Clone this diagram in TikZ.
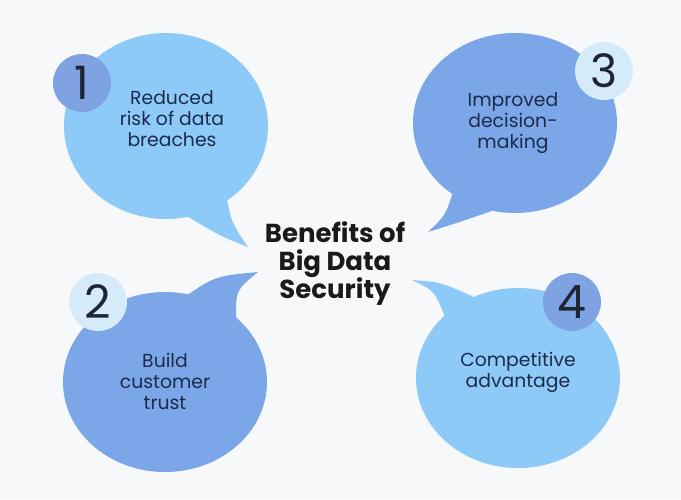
\documentclass[tikz,border=0pt]{standalone}
\usepackage{fontspec}
\setmainfont{Poppins}
\definecolor{bgc}{HTML}{F7F8FA}
\definecolor{lightbub}{HTML}{8ECAF8}
\definecolor{darkbub}{HTML}{7BA6E7}
\definecolor{lightcirc}{HTML}{D5EBFA}
\definecolor{darkcirc}{HTML}{7EA2E2}
\definecolor{bodytxt}{HTML}{1C2B4A}
\definecolor{digittxt}{HTML}{1E2633}
\definecolor{titletxt}{HTML}{1A1A1A}
\tikzset{
  bodytext/.style={text=bodytxt, align=center, font=\fontsize{18.8}{21}\selectfont, inner sep=0pt},
  digit/.style={text=digittxt, font=\fontsize{46}{46}\selectfont, inner sep=0pt},
  numcirc/.style={circle, minimum size=58pt, inner sep=0pt},
  titletext/.style={text=titletxt, align=center, font=\fontsize{26}{28}\selectfont\bfseries, inner sep=0pt}
}
\begin{document}
\begin{tikzpicture}[x=1pt,y=-1pt]
\fill[bgc] (0,0) rectangle (681,499);
\useasboundingbox (0,0) rectangle (681,499);

% Bubble 1
\fill[lightbub] (166,126) ellipse [x radius=102, y radius=93];
\fill[lightbub] (166,126) -- (225,188) .. controls (231,222) .. (248,247) .. controls (220,236) .. (180,212) -- cycle;
% Bubble 3
\fill[darkbub] (515,123) ellipse [x radius=102, y radius=90];
\fill[darkbub] (515,123) -- (455,185) .. controls (446,215) .. (428,232) .. controls (460,222) .. (500,208) -- cycle;
% Bubble 2
\fill[darkbub] (165,382) ellipse [x radius=102, y radius=90];
\fill[darkbub] (165,382) -- (180,300) .. controls (215,276) .. (258,272) .. controls (236,290) .. (236,318) -- cycle;
% Bubble 4
\fill[lightbub] (518,378) ellipse [x radius=102, y radius=90];
\fill[lightbub] (518,378) -- (472,296) .. controls (440,282) .. (412,280) .. controls (435,291) .. (446,320) -- cycle;

% Number circles
\node[numcirc, fill=darkcirc] (c1) at (82,83) {};
\node[numcirc, fill=lightcirc] (c3) at (604,71) {};
\node[numcirc, fill=lightcirc] (c2) at (98,302) {};
\node[numcirc, fill=darkcirc] (c4) at (572,302) {};
\node[digit] (d1) at (c1) {1};
\node[digit] (d3) at (c3) {3};
\node[digit] (d2) at (c2) {2};
\node[digit] (d4) at (c4) {4};

% Texts
\node[bodytext] (t1) at (172,119) {Reduced\\risk of data\\breaches};
\node[bodytext] (t3) at (513,123) {Improved\\decision-\\making};
\node[bodytext] (t2) at (165,381) {Build\\customer\\trust};
\node[bodytext] (t4) at (518,372) {Competitive\\advantage};
\node[titletext] (title) at (335,264) {Benefits of\\Big Data\\Security};
\end{tikzpicture}
\end{document}
